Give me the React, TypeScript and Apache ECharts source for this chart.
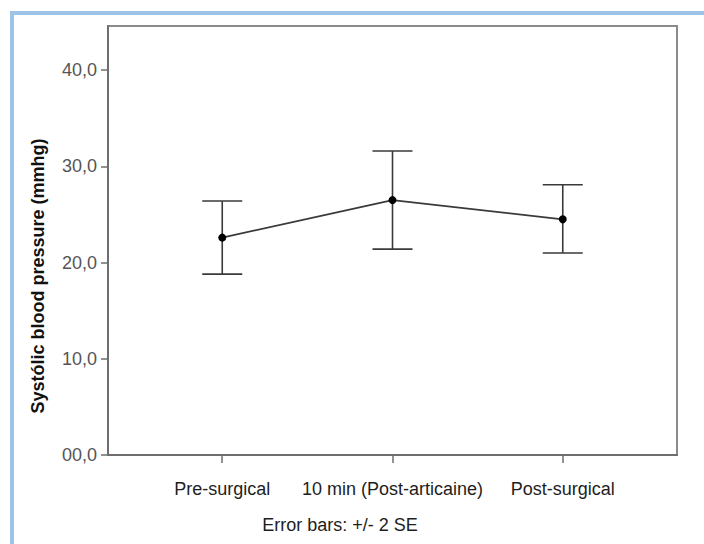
import React, { useEffect, useRef } from "react";
import * as echarts from "echarts";

const categories = ["Pre-surgical", "10 min (Post-articaine)", "Post-surgical"];
const positions = [1, 2, 3];
const means = [22.6, 26.5, 24.5];
const upper = [26.4, 31.6, 28.1];
const lower = [18.8, 21.4, 21.0];
const yTicks = [0, 10, 20, 30, 40];
const yTitle = "Systólic blood pressure (mmhg)";
const footnote = "Error bars: +/- 2 SE";

export default function App() {
  const ref = useRef<HTMLDivElement>(null);
  useEffect(() => {
    document.body.style.margin = "0";
    const chart = echarts.init(ref.current!, null, { renderer: "svg" });
    const font = "'Liberation Sans', Arial, sans-serif";
    chart.setOption({
      animation: false,
      backgroundColor: "#ffffff",
      grid: {
        left: 108,
        top: 26,
        right: 27,
        bottom: 89,
        show: true,
        borderColor: "#8a8a8a",
        borderWidth: 2,
        backgroundColor: "transparent",
      },
      xAxis: {
        type: "value",
        min: 0.329,
        max: 3.671,
        splitLine: { show: false },
        axisLine: { show: true, lineStyle: { color: "#6e6e6e", width: 2 } },
        axisTick: {
          show: true,
          customValues: positions,
          length: 8,
          lineStyle: { color: "#6e6e6e", width: 1.5 },
        },
        axisLabel: {
          customValues: positions,
          margin: 25,
          fontFamily: font,
          fontSize: 18,
          color: "#1e1e1e",
          formatter: (v: number) => categories[Math.round(v) - 1] ?? "",
        },
      },
      yAxis: {
        type: "value",
        min: 0,
        max: 44.6,
        splitLine: { show: false },
        axisLine: { show: true, lineStyle: { color: "#6e6e6e", width: 2 } },
        axisTick: {
          show: true,
          customValues: yTicks,
          length: 7,
          lineStyle: { color: "#6e6e6e", width: 1.5 },
        },
        axisLabel: {
          customValues: yTicks,
          margin: 11,
          fontFamily: font,
          fontSize: 18,
          color: "#555555",
          formatter: (v: number) =>
            v === 0 ? "00,0" : v.toFixed(1).replace(".", ","),
        },
      },
      series: [
        {
          type: "custom",
          data: positions.map((p, i) => [p, lower[i], upper[i]]),
          renderItem: (params: any, api: any) => {
            const x = api.value(0);
            const lo = api.coord([x, api.value(1)]);
            const hi = api.coord([x, api.value(2)]);
            const half = 20;
            const style = { stroke: "#3a3a3a", lineWidth: 1.6 };
            return {
              type: "group",
              children: [
                { type: "line", shape: { x1: lo[0], y1: lo[1], x2: hi[0], y2: hi[1] }, style },
                { type: "line", shape: { x1: hi[0] - half, y1: hi[1], x2: hi[0] + half, y2: hi[1] }, style },
                { type: "line", shape: { x1: lo[0] - half, y1: lo[1], x2: lo[0] + half, y2: lo[1] }, style },
              ],
            };
          },
          z: 2,
        },
        {
          type: "line",
          data: positions.map((p, i) => [p, means[i]]),
          symbol: "circle",
          symbolSize: 8,
          itemStyle: { color: "#000000" },
          lineStyle: { color: "#3a3a3a", width: 1.6 },
          z: 3,
        },
      ],
      graphic: [
        {
          type: "line",
          shape: { x1: 12, y1: 13, x2: 12, y2: 560 },
          style: { stroke: "#9dc3e6", lineWidth: 4 },
        },
        {
          type: "line",
          shape: { x1: 10, y1: 13, x2: 720, y2: 13 },
          style: { stroke: "#9dc3e6", lineWidth: 4 },
        },
        {
          type: "text",
          x: 38,
          y: 276,
          rotation: Math.PI / 2,
          style: {
            text: yTitle,
            fontFamily: font,
            fontSize: 18,
            fontWeight: "bold",
            fill: "#111111",
            align: "center",
            verticalAlign: "middle",
          },
        },
        {
          type: "text",
          x: 340,
          y: 525,
          style: {
            text: footnote,
            fontFamily: font,
            fontSize: 18,
            fill: "#1e1e1e",
            align: "center",
            verticalAlign: "middle",
          },
        },
      ],
    });
    return () => chart.dispose();
  }, []);
  return (
    <div
      ref={ref}
      style={{ position: "fixed", left: 0, top: 0, width: 704, height: 544, overflow: "hidden" }}
    />
  );
}
